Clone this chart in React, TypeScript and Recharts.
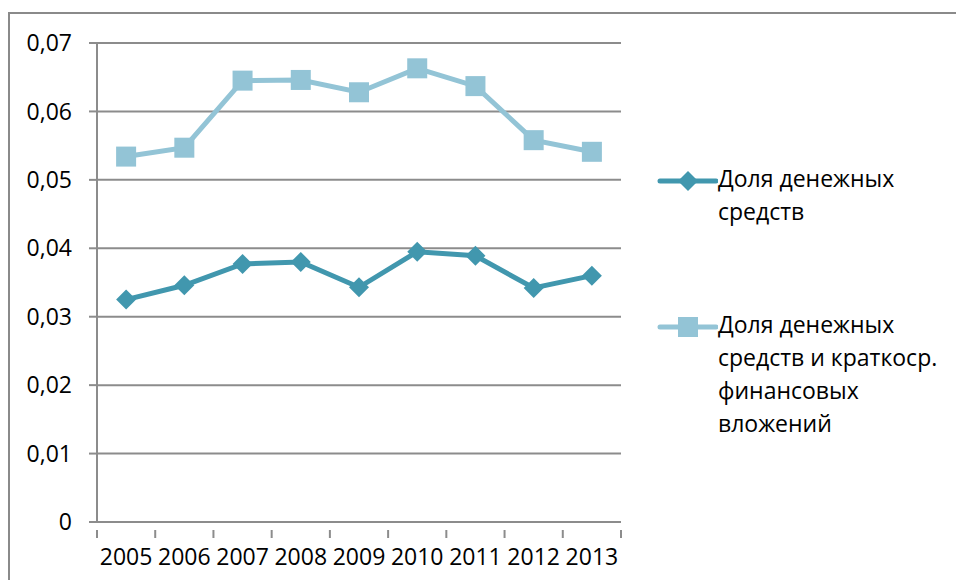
import { LineChart, Line, XAxis, YAxis, CartesianGrid, Legend } from 'recharts'

const years = ['2005', '2006', '2007', '2008', '2009', '2010', '2011', '2012', '2013']
const cashShare = [0.0325, 0.0346, 0.0377, 0.038, 0.0343, 0.0395, 0.0389, 0.0342, 0.036]
const cashAndInvestShare = [0.0534, 0.0547, 0.0645, 0.0646, 0.0628, 0.0663, 0.0637, 0.0558, 0.0541]
const yTicks = [0, 0.01, 0.02, 0.03, 0.04, 0.05, 0.06, 0.07]

const SERIES = [
  { key: 'cash', name: 'Доля денежных средств', color: '#4197AE', marker: 'diamond' },
  { key: 'cashInvest', name: 'Доля денежных средств и краткоср. финансовых вложений', color: '#93C4D6', marker: 'square' },
]

const data = years.map((year, i) => ({ year, cash: cashShare[i], cashInvest: cashAndInvestShare[i] }))

const FONT = '"Open Sans", sans-serif'
const GRID = '#8c8c8c'
const PLOT_LEFT = 97
const PLOT_RIGHT = 621
const BAND = (PLOT_RIGHT - PLOT_LEFT) / years.length

const fmt = (v: number) => (v === 0 ? '0' : v.toFixed(2).replace('.', ','))

function Marker({ cx, cy, kind, color }: { cx: number; cy: number; kind: string; color: string }) {
  if (kind === 'diamond') {
    const r = 10
    return <polygon points={`${cx},${cy - r} ${cx + r},${cy} ${cx},${cy + r} ${cx - r},${cy}`} fill={color} />
  }
  return <rect x={cx - 10} y={cy - 10} width={20} height={20} fill={color} />
}

// category labels with Excel-style tick marks between the bands
function YearTick(props: any) {
  const { x, y, payload, index } = props
  const left = x - BAND / 2
  return (
    <g>
      <line x1={left} y1={y} x2={left} y2={y + 8} stroke={GRID} strokeWidth={2} />
      {index === years.length - 1 && (
        <line x1={x + BAND / 2} y1={y} x2={x + BAND / 2} y2={y + 8} stroke={GRID} strokeWidth={2} />
      )}
      <text x={x} y={y + 35} textAnchor="middle" fontSize={23} fontFamily={FONT} fill="#000">
        {payload.value}
      </text>
    </g>
  )
}

function LegendBox({ payload }: any) {
  return (
    <div style={{ fontFamily: FONT, fontSize: 23, lineHeight: '33px', color: '#000' }}>
      {(payload || []).map((entry: any, i: number) => {
        const s = SERIES.find((d) => d.key === entry.dataKey) || SERIES[i]
        return (
          <div key={s.key} style={{ display: 'flex', alignItems: 'flex-start', marginBottom: 80 }}>
            <svg width={62} height={20} style={{ marginTop: 9, flex: 'none' }}>
              <line x1={4} y1={10} x2={60} y2={10} stroke={s.color} strokeWidth={5} strokeLinecap="round" />
              <Marker cx={32} cy={10} kind={s.marker} color={s.color} />
            </svg>
            <div style={{ width: 220 }}>{s.name}</div>
          </div>
        )
      })}
    </div>
  )
}

export default function App() {
  return (
    <div style={{ position: 'fixed', left: 0, top: 0, width: 956, height: 580, overflow: 'hidden', background: '#fff' }}>
      <div
        style={{
          position: 'absolute',
          left: 8,
          top: 12,
          width: 1000,
          height: 700,
          border: '2px solid #8a8a8a',
        }}
      />
      <div style={{ position: 'absolute', left: 0, top: 0 }}>
        <LineChart width={956} height={580} data={data} margin={{ top: 43, right: 956 - PLOT_RIGHT, bottom: 0, left: 0 }}>
          <CartesianGrid vertical={false} stroke={GRID} strokeWidth={2} />
          <XAxis
            dataKey="year"
            height={58}
            padding={{ left: BAND / 2, right: BAND / 2 }}
            axisLine={{ stroke: GRID, strokeWidth: 2 }}
            tickLine={false}
            interval={0}
            tick={<YearTick />}
          />
          <YAxis
            width={PLOT_LEFT}
            domain={[0, 0.07]}
            ticks={yTicks}
            tickFormatter={fmt}
            axisLine={{ stroke: GRID, strokeWidth: 2 }}
            tickLine={{ stroke: GRID, strokeWidth: 2 }}
            tickSize={8}
            tickMargin={17}
            tick={{ fontSize: 23, fontFamily: FONT, fill: '#000' }}
          />
          {SERIES.map((s) => (
            <Line
              key={s.key}
              dataKey={s.key}
              name={s.name}
              stroke={s.color}
              strokeWidth={5}
              isAnimationActive={false}
              dot={(p: any) => <Marker key={`${s.key}-${p.index}`} cx={p.cx} cy={p.cy} kind={s.marker} color={s.color} />}
            />
          ))}
          <Legend
            layout="horizontal"
            verticalAlign="middle"
            content={<LegendBox />}
            wrapperStyle={{ left: 656, top: 162, width: 290 }}
          />
        </LineChart>
      </div>
    </div>
  )
}
